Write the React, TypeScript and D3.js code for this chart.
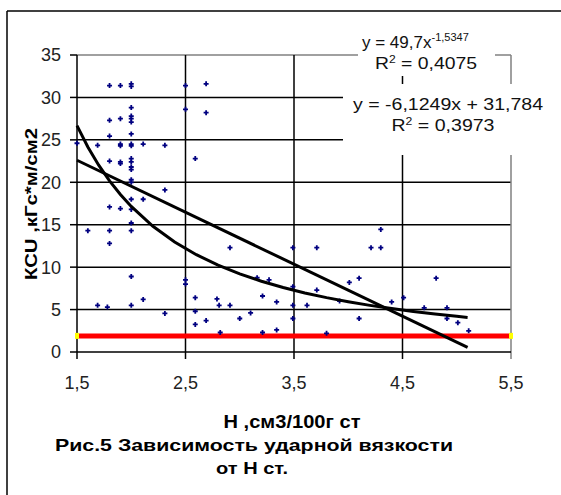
import React from "react";
import * as d3 from "d3";

// H, см3/100г ст  vs  KCU, кГс*м/см2
const hValues = [
  1.5, 1.6, 1.69, 1.69, 1.78,
  1.8, 1.8, 1.8, 1.8, 1.8, 1.8, 1.8,
  1.9, 1.9, 1.9, 1.9, 1.9, 1.9, 1.9,
  2.0, 2.0, 2.0, 2.0, 2.0, 2.0, 2.0, 2.0, 2.0, 2.0, 2.0, 2.0, 2.0, 2.0, 2.0, 2.0, 2.0, 2.0, 2.0, 2.0, 2.0,
  2.11, 2.11, 2.11, 2.31, 2.31, 2.31,
  2.5, 2.5, 2.5, 2.5, 2.59, 2.59, 2.59, 2.59, 2.69, 2.69, 2.69,
  2.79, 2.81, 2.82, 2.91, 2.91, 3.0, 3.1, 3.16, 3.21, 3.21, 3.27, 3.34, 3.34,
  3.49, 3.49, 3.49, 3.49, 3.62, 3.71, 3.71, 3.8, 3.92, 4.01, 4.1, 4.1,
  4.21, 4.3, 4.3, 4.4, 4.51, 4.7, 4.81, 4.91, 4.91, 5.01, 5.11,
];
const kcuValues = [
  24.6, 14.3, 24.35, 5.5, 5.3,
  31.4, 27.3, 25.45, 22.5, 17.1, 14.3, 12.8,
  31.4, 27.5, 24.5, 24.3, 22.4, 22.2, 16.9,
  31.6, 31.3, 28.8, 27.8, 27.5, 27.1, 25.7, 24.5, 24.3, 22.8, 22.4, 21.8, 21.5, 20.3, 20.0, 18.0, 16.8, 15.2, 14.3, 8.9, 5.5,
  24.5, 18.0, 6.2, 24.35, 19.1, 4.55,
  31.4, 28.6, 8.5, 8.0, 22.8, 6.4, 4.8, 3.25, 31.6, 28.2, 3.7,
  6.25, 5.5, 2.3, 12.3, 5.5, 3.95, 4.6, 8.75, 6.6, 2.3, 8.5, 5.9, 2.6,
  12.3, 7.7, 5.5, 3.95, 5.5, 12.3, 7.3, 2.2, 6.0, 8.2, 8.7, 3.95,
  12.3, 12.3, 14.45, 5.9, 6.4, 5.2, 8.7, 5.2, 3.95, 3.45, 2.5,
];

const xTicks = [1.5, 2.5, 3.5, 4.5, 5.5];
const xTickLabels = ["1,5", "2,5", "3,5", "4,5", "5,5"];
const yTicks = [0, 5, 10, 15, 20, 25, 30, 35];
const yTickLabels = ["0", "5", "10", "15", "20", "25", "30", "35"];

// trend lines from the equations shown on the chart
const powerCoef = [49.7, -1.5347];
const linearCoef = [-6.1249, 31.784];
const trendRange = [1.5, 5.1];
const trendSamples = [1.5, 1.6, 1.7, 1.8, 1.9, 2.0, 2.2, 2.4, 2.6, 2.8, 3.0, 3.2, 3.4, 3.6, 3.8, 4.0, 4.2, 4.4, 4.6, 4.8, 5.0, 5.1];

const limitValue = 1.9; // red horizontal line

const xLabel = "H ,см3/100г ст";
const yLabel = "КСU ,кГс*м/см2";
const caption1 = "Рис.5 Зависимость ударной вязкости";
const caption2 = "от Н ст.";

const W = 561;
const H = 495;

export default function App() {
  const x = d3.scaleLinear().domain([1.5, 5.5]).range([77, 511]);
  const y = d3.scaleLinear().domain([0, 35]).range([352, 55]);

  const line = d3.line<number[]>().x((d) => x(d[0])).y((d) => y(d[1]));
  const powerPts = trendSamples.map((h) => [h, powerCoef[0] * Math.pow(h, powerCoef[1])]);
  const linPts = trendRange.map((h) => [h, linearCoef[0] * h + linearCoef[1]]);

  const font = "'Liberation Sans', Arial, sans-serif";

  return (
    <svg width={W} height={H} style={{ position: "absolute", left: 0, top: 0, background: "#fff" }} fontFamily={font}>
      {/* frame */}
      <line x1={7} y1={11} x2={W} y2={11} stroke="#000" strokeWidth={1.5} />
      <line x1={7} y1={11} x2={7} y2={H} stroke="#000" strokeWidth={1.5} />

      {/* horizontal grid */}
      {yTicks.slice(1).map((t) => (
        <line key={"hg" + t} x1={x(1.5)} x2={x(5.5)} y1={y(t)} y2={y(t)}
          stroke={t === 35 ? "#808080" : "#000"} strokeWidth={1.5} />
      ))}
      {/* vertical grid */}
      {xTicks.slice(1).map((t) => (
        <line key={"vg" + t} x1={x(t)} x2={x(t)} y1={y(35)} y2={y(0) + 7}
          stroke={t === 5.5 ? "#808080" : "#000"} strokeWidth={1.5} />
      ))}

      {/* axes */}
      <line x1={x(1.5)} x2={x(5.5)} y1={y(0)} y2={y(0)} stroke="#000" strokeWidth={1.5} />
      <line x1={x(1.5)} x2={x(1.5)} y1={y(35)} y2={y(0) + 7} stroke="#000" strokeWidth={1.5} />
      {yTicks.map((t) => (
        <line key={"yt" + t} x1={x(1.5) - 7} x2={x(1.5)} y1={y(t)} y2={y(t)} stroke="#000" strokeWidth={1.5} />
      ))}
      {yTicks.map((t, i) => (
        <text key={"yl" + t} x={61} y={y(t)} dy="0.36em" textAnchor="end" fontSize={18} fill="#222">
          {yTickLabels[i]}
        </text>
      ))}
      {xTicks.map((t, i) => (
        <text key={"xl" + t} x={x(t)} y={383} dy="0.36em" textAnchor="middle" fontSize={18} fill="#222">
          {xTickLabels[i]}
        </text>
      ))}

      {/* limit line */}
      <line x1={x(1.5)} x2={x(5.5)} y1={y(limitValue)} y2={y(limitValue)} stroke="#ff0000" strokeWidth={5} />
      <rect x={x(1.5) - 2} y={y(limitValue) - 3} width={4} height={6} fill="#ffff00" />
      <rect x={x(5.5) - 2} y={y(limitValue) - 3} width={4} height={6} fill="#ffff00" />

      {/* points */}
      {hValues.map((h, i) => (
        <path key={"p" + i}
          d={`M${x(h) - 2.5},${y(kcuValues[i])}h5M${x(h)},${y(kcuValues[i]) - 2.5}v5`}
          stroke="#000080" strokeWidth={1.8} />
      ))}

      {/* trend lines */}
      <path d={line(powerPts) || ""} fill="none" stroke="#000" strokeWidth={3} />
      <path d={line(linPts) || ""} fill="none" stroke="#000" strokeWidth={3} />

      {/* equation labels */}
      <rect x={358} y={28} width={137} height={48} fill="#fff" />
      <rect x={343} y={84} width={214} height={71} fill="#fff" />
      <text x={362} y={48} fontSize={17} fill="#111">
        y = 49,7x<tspan dy={-7} fontSize={11}>-1,5347</tspan>
      </text>
      <text x={426} y={69} textAnchor="middle" fontSize={16} textLength={102} lengthAdjust="spacingAndGlyphs" fill="#111">
        R<tspan dy={-6} fontSize={10}>2</tspan><tspan dy={6}> = 0,4075</tspan>
      </text>
      <text x={448} y={110} textAnchor="middle" fontSize={16} textLength={190} lengthAdjust="spacingAndGlyphs" fill="#111">
        y = -6,1249x + 31,784
      </text>
      <text x={443} y={131} textAnchor="middle" fontSize={16} textLength={103} lengthAdjust="spacingAndGlyphs" fill="#111">
        R<tspan dy={-6} fontSize={10}>2</tspan><tspan dy={6}> = 0,3973</tspan>
      </text>

      {/* axis titles */}
      <text transform={`translate(37,204) rotate(-90)`} textAnchor="middle" fontSize={17} fontWeight="bold"
        textLength={152} lengthAdjust="spacingAndGlyphs">
        {yLabel}
      </text>
      <text x={292} y={428} textAnchor="middle" fontSize={18} fontWeight="bold" textLength={137} lengthAdjust="spacingAndGlyphs">
        {xLabel}
      </text>
      <text x={254} y={451} textAnchor="middle" fontSize={17} fontWeight="bold" textLength={398} lengthAdjust="spacingAndGlyphs">
        {caption1}
      </text>
      <text x={252} y={474} textAnchor="middle" fontSize={17} fontWeight="bold" textLength={72} lengthAdjust="spacingAndGlyphs">
        {caption2}
      </text>
    </svg>
  );
}
